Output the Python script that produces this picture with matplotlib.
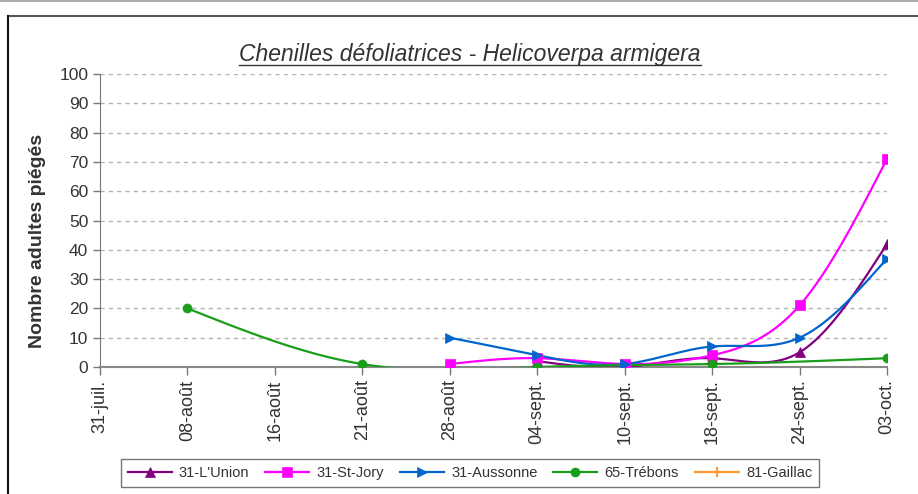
import numpy as np
import matplotlib
matplotlib.use("Agg")
import matplotlib.pyplot as plt
from matplotlib.lines import Line2D

plt.rcParams['font.family'] = ['Liberation Sans', 'DejaVu Sans']

categories = ['31-juil.', '08-août', '16-août', '21-août', '28-août',
              '04-sept.', '10-sept.', '18-sept.', '24-sept.', '03-oct.']
nan = np.nan
lunion = [nan, nan, nan, nan, nan, 2, 0, 3, 5, 42]
stjory = [nan, nan, nan, nan, 1, 3, 1, 4, 21, 71]
aussonne = [nan, nan, nan, nan, 10, 4, 1, 7, 10, 37]
trebons = [nan, 20, nan, 1, nan, 0, nan, 1, nan, 3]
gaillac = [nan] * 10

series = [
    ("31-L'Union", lunion, '#800080', '^', 7.5),
    ('31-St-Jory', stjory, '#ff00ff', 's', 7.5),
    ('31-Aussonne', aussonne, '#0066cc', '>', 7.5),
    ('65-Trébons', trebons, '#1a9e1a', 'o', 6.5),
    ('81-Gaillac', gaillac, '#ff9933', '+', 7.5),
]


def natural_spline(x, y, n=40):
    x = np.asarray(x, float)
    y = np.asarray(y, float)
    k = len(x)
    if k < 3:
        xs = np.linspace(x[0], x[-1], n)
        return xs, np.interp(xs, x, y)
    h = np.diff(x)
    A = np.zeros((k, k))
    b = np.zeros(k)
    A[0, 0] = A[-1, -1] = 1
    for i in range(1, k - 1):
        A[i, i - 1] = h[i - 1]
        A[i, i] = 2 * (h[i - 1] + h[i])
        A[i, i + 1] = h[i]
        b[i] = 6 * ((y[i + 1] - y[i]) / h[i] - (y[i] - y[i - 1]) / h[i - 1])
    M = np.linalg.solve(A, b)
    xs_all, ys_all = [], []
    for i in range(k - 1):
        t = np.linspace(x[i], x[i + 1], n)
        a = (x[i + 1] - t) / h[i]
        c = (t - x[i]) / h[i]
        s = (a * y[i] + c * y[i + 1]
             + ((a ** 3 - a) * M[i] + (c ** 3 - c) * M[i + 1]) * h[i] ** 2 / 6)
        xs_all.append(t)
        ys_all.append(s)
    return np.concatenate(xs_all), np.concatenate(ys_all)


W, H = 918, 494
fig = plt.figure(figsize=(W / 100, H / 100), dpi=100)
ax = fig.add_axes([100 / W, 1 - 367 / H, (887 - 100) / W, (367 - 74) / H])

xpos = np.arange(len(categories))
handles = []
for name, vals, col, mk, ms in series:
    v = np.asarray(vals, float)
    ok = ~np.isnan(v)
    if ok.sum() >= 2:
        xs, ys = natural_spline(xpos[ok], v[ok])
        ax.plot(xs, ys, color=col, lw=1.6, zorder=3)
    if ok.sum() >= 1:
        ax.plot(xpos[ok], v[ok], linestyle='none', marker=mk, color=col,
                markersize=ms, markeredgewidth=1.5 if mk == '+' else 0.5, zorder=4)
    handles.append(Line2D([], [], color=col, lw=1.6, marker=mk, markersize=ms,
                          markeredgewidth=1.5 if mk == '+' else 0.5, label=name))

ax.set_xlim(0, len(categories) - 1)
ax.set_ylim(0, 100)
ax.set_yticks(np.arange(0, 101, 10))
ax.set_xticks(xpos)
ax.set_xticklabels(categories, rotation=90, fontsize=13, color='#333333')
ax.tick_params(axis='y', labelsize=12.5, labelcolor='#333333', length=5,
               color='#777777', width=1)
ax.tick_params(axis='x', length=6, color='#777777', width=1, pad=3)
ax.yaxis.grid(True, linestyle=(0, (3, 3)), color='#b3b3b3', lw=1)
ax.set_axisbelow(True)
for s in ['top', 'right']:
    ax.spines[s].set_visible(False)
ax.spines['left'].set_color('#777777')
ax.spines['bottom'].set_color('#888888')
ax.spines['bottom'].set_linewidth(1.5)

fig.text(38 / W, 1 - 241 / H, 'Nombre adultes piégés', rotation=90,
         fontsize=14, fontweight='bold', color='#333333', ha='center', va='center')

title = fig.text(470 / W, 1 - 55 / H, 'Chenilles défoliatrices - Helicoverpa armigera',
                 fontsize=16.5, style='italic', color='#333333', ha='center', va='center')

leg = fig.legend(handles=handles, loc='center', bbox_to_anchor=(470 / W, 1 - 473 / H),
                 ncol=5, fontsize=10.5, frameon=True, fancybox=False,
                 handlelength=3.0, columnspacing=1.1, handletextpad=0.5,
                 borderpad=0.5)
leg.get_frame().set_edgecolor('#555555')
leg.get_frame().set_linewidth(1)
for t in leg.get_texts():
    t.set_color('#333333')

# outer frames
fig.add_artist(Line2D([0, 1], [1 - 1 / H, 1 - 1 / H], color='#aaaaaa', lw=1.5,
                      transform=fig.transFigure))
fig.add_artist(Line2D([8 / W, 1], [1 - 16 / H, 1 - 16 / H], color='#555555', lw=1.5,
                      transform=fig.transFigure))
fig.add_artist(Line2D([8 / W, 8 / W], [0, 1 - 16 / H], color='#111111', lw=1.5,
                      transform=fig.transFigure))

# underline title
fig.canvas.draw()
bb = title.get_window_extent()
uy = (bb.y0 + 1) / H
fig.add_artist(Line2D([bb.x0 / W, bb.x1 / W], [uy, uy], color='#333333', lw=1,
                      transform=fig.transFigure))

fig.savefig('out.png', dpi=100)
